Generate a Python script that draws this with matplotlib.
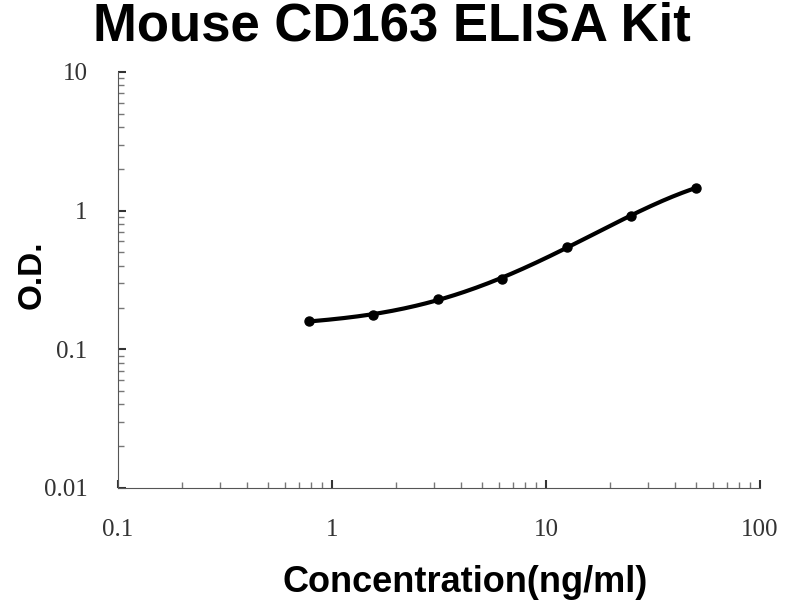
import numpy as np
import matplotlib
matplotlib.use('Agg')
import matplotlib.pyplot as plt
from matplotlib.ticker import LogLocator, FixedLocator, NullFormatter

# стандартная кривая
conc = [0.78, 1.56, 3.125, 6.25, 12.5, 25, 50]
od = [0.159, 0.178, 0.231, 0.322, 0.548, 0.92, 1.457]

x_ticks = [0.1, 1, 10, 100]
x_tick_labels = ['0.1', '1', '10', '100']
y_ticks = [0.01, 0.1, 1, 10]
y_tick_labels = ['0.01', '0.1', '1', '10']

# сглаживающая кривая в лог-лог координатах
lx = np.log10(conc)
ly = np.log10(od)
coef = np.polyfit(lx, ly, 4)
xs = np.linspace(lx[0], lx[-1], 200)
ys = np.polyval(coef, xs)

fig = plt.figure(figsize=(8, 6), dpi=100)
ax = fig.add_axes([0.1475, 0.1867, 0.8025, 0.6933])

ax.plot(10 ** xs, 10 ** ys, color='black', linewidth=3)
ax.plot(conc, od, 'o', color='black', markersize=6.5)

ax.set_xscale('log')
ax.set_yscale('log')
ax.set_xlim(0.1, 100)
ax.set_ylim(0.01, 10)

ax.spines['top'].set_visible(False)
ax.spines['right'].set_visible(False)
ax.spines['left'].set_color('#555555')
ax.spines['bottom'].set_color('#555555')

ax.xaxis.set_major_locator(FixedLocator(x_ticks))
ax.yaxis.set_major_locator(FixedLocator(y_ticks))
ax.set_xticklabels(x_tick_labels, family='Liberation Serif', fontsize=18, color='#333333')
ax.set_yticklabels(y_tick_labels, family='Liberation Serif', fontsize=18, color='#333333')
ax.xaxis.set_minor_locator(LogLocator(base=10, subs=np.arange(2, 10)))
ax.yaxis.set_minor_locator(LogLocator(base=10, subs=np.arange(2, 10)))
ax.xaxis.set_minor_formatter(NullFormatter())
ax.yaxis.set_minor_formatter(NullFormatter())
ax.tick_params(which='major', direction='in', length=6, width=1.5, color='#333333')
ax.tick_params(which='minor', direction='in', length=4, width=1, color='#777777')
ax.tick_params(axis='x', which='major', pad=22)
ax.tick_params(axis='y', which='major', pad=22)

ax.set_xlabel('Concentration(ng/ml)', family='Liberation Sans', fontweight='bold', fontsize=26)
ax.set_ylabel('O.D.', family='Liberation Sans', fontweight='bold', fontsize=24)
ax.xaxis.set_label_coords(0.54, -0.185)
ax.yaxis.set_label_coords(-0.11, 0.512)

fig.text(0.49, 0.933, 'Mouse CD163 ELISA Kit', ha='center', va='baseline',
         family='Liberation Sans', fontweight='bold', fontsize=38)

fig.savefig('out.png', dpi=100)
